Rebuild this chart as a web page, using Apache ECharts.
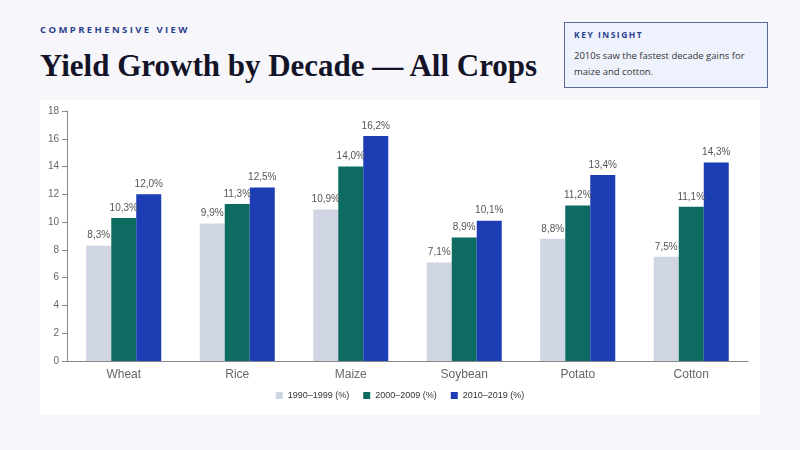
<!DOCTYPE html>
<html><head><meta charset="utf-8">
<script src="https://cdn.jsdelivr.net/npm/echarts@6/dist/echarts.min.js"></script>
<style>
body{margin:0;width:800px;height:450px;background:#f7f7fb;position:relative;font-family:"Open Sans",sans-serif;overflow:hidden}
#kicker{position:absolute;left:40px;top:23px;font-size:9.5px;letter-spacing:2.4px;color:#2a3f8f;font-weight:bold}
#title{position:absolute;left:40px;top:48px;font-family:"Liberation Serif",serif;font-weight:bold;font-size:31px;color:#141428}
#box{position:absolute;left:564px;top:22px;width:204px;height:66px;border:1px solid #5a6a9a;background:#eef2fd;box-sizing:border-box;padding:6px 9px}
#box .h{font-size:8.5px;letter-spacing:1.5px;font-weight:bold;color:#2a3f8f}
#box .t{font-size:9.5px;color:#333;margin-top:8px;line-height:16px}
#main{position:absolute;left:40px;top:100px;width:720px;height:315px;background:#fff}
</style></head><body>
<div id="kicker">COMPREHENSIVE VIEW</div>
<div id="title">Yield Growth by Decade — All Crops</div>
<div id="box"><div class="h">KEY INSIGHT</div><div class="t">2010s saw the fastest decade gains for maize and cotton.</div></div>
<div id="main"></div>
<script>
var crops = ['Wheat','Rice','Maize','Soybean','Potato','Cotton'];
var names = ['1990–1999 (%)','2000–2009 (%)','2010–2019 (%)'];
var d1990 = [8.3, 9.9, 10.9, 7.1, 8.8, 7.5];
var d2000 = [10.3, 11.3, 14.0, 8.9, 11.2, 11.1];
var d2010 = [12.0, 12.5, 16.2, 10.1, 13.4, 14.3];
var colors = ['#cfd5e2','#0d6b62','#1d3db5'];

var myChart = echarts.init(document.getElementById('main'));
function mk(i, data){
  return {
    name: names[i], type: 'bar', data: data, barWidth: 25, barGap: '0%',
    itemStyle: {color: colors[i]},
    label: {show: true, position: 'top', color: '#555', fontSize: 10,
      formatter: function(p){ return p.value.toFixed(1).replace('.', ',') + '%'; }}
  };
}
var option = {
  animation: false,
  textStyle: {fontFamily: 'Liberation Sans'},
  grid: {left: 27, right: 12, top: 11, bottom: 54},
  legend: {bottom: 10, itemWidth: 7, itemHeight: 7, itemGap: 14,
    textStyle: {fontSize: 9, color: '#333'}, icon: 'rect'},
  xAxis: {type: 'category', data: crops,
    axisLine: {lineStyle: {color: '#888'}},
    axisTick: {lineStyle: {color: '#888'}},
    axisLabel: {color: '#666', fontSize: 12, margin: 8}},
  yAxis: {type: 'value', min: 0, max: 18, interval: 2,
    axisLine: {show: true, lineStyle: {color: '#888'}},
    axisTick: {show: true, lineStyle: {color: '#888'}},
    axisLabel: {color: '#666', fontSize: 10},
    splitLine: {show: false}},
  series: [mk(0, d1990), mk(1, d2000), mk(2, d2010)]
};
myChart.setOption(option);
</script>
</body></html>
